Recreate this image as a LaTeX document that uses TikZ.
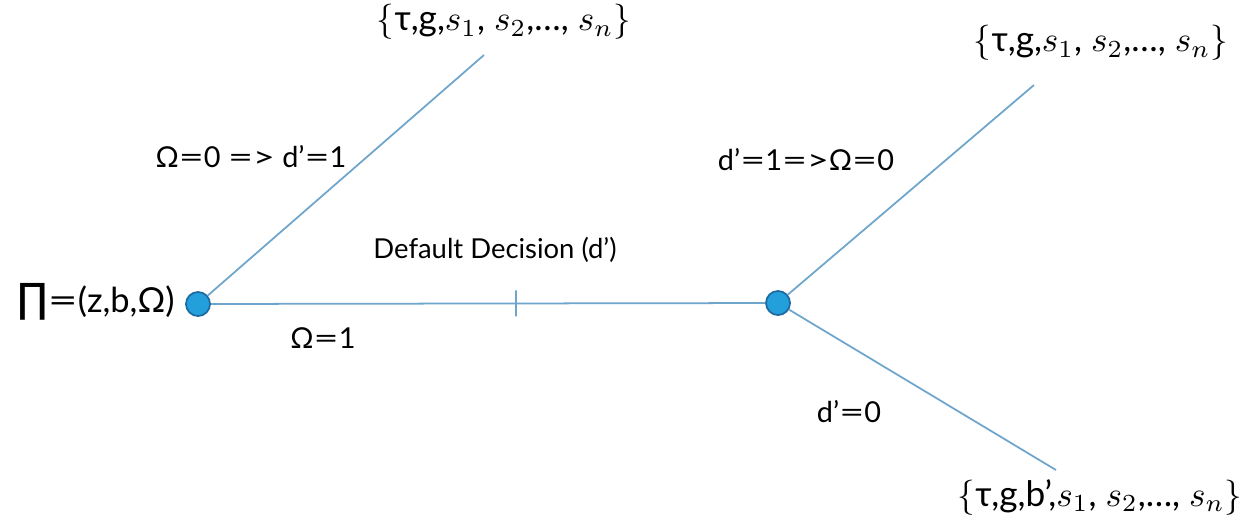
\documentclass[tikz,border=0pt]{standalone}
\usepackage{fontspec}
\setmainfont{Lato}
\newfontfamily\symfont{DejaVu Sans}
\usepackage{graphicx}
\usepackage{tikz}
\usetikzlibrary{positioning}
\definecolor{EdgeBlue}{RGB}{110,165,205}
\definecolor{DotBlue}{RGB}{35,160,220}
\definecolor{DotRim}{RGB}{30,105,160}
\newcommand{\eqs}{\scalebox{1.5}[1]{=}}
\newcommand{\gts}{\scalebox{1.3}[1]{\textgreater}}

\begin{document}
\begin{tikzpicture}[x=0.01cm, y=0.01cm, font=\fontsize{8.2}{9}\selectfont]
  \useasboundingbox (0,0) rectangle (1245,520);
  % decision points
  \node[circle, draw=DotRim, fill=DotBlue, line width=0.5pt, minimum size=0.24cm, inner sep=0pt] (root) at (198,216) {};
  \node[circle, draw=DotRim, fill=DotBlue, line width=0.5pt, minimum size=0.24cm, inner sep=0pt] (dflt) at (778,217) {};
  \coordinate (upL) at (484,465);
  \coordinate (upR) at (1034,435);
  \coordinate (lowR) at (1056,50);
  % branches
  \draw[EdgeBlue, line width=0.5pt] (root) -- (upL);
  \draw[EdgeBlue, line width=0.5pt] (root) -- node[pos=0.55, rectangle, draw=EdgeBlue, line width=0.5pt, minimum width=0pt, minimum height=0.26cm, inner sep=0pt] (tick) {} (dflt);
  \draw[EdgeBlue, line width=0.5pt] (dflt) -- (upR);
  \draw[EdgeBlue, line width=0.5pt] (dflt) -- (lowR);
  % labels
  \node[anchor=east, font=\fontsize{9.8}{11}\selectfont] (state) at (187,218) {{\symfont\fontsize{11.5}{12}\selectfont ∏}\eqs(z,b,Ω)};
  \node (omz) at (251,363) {Ω\eqs0 \eqs\gts\ d’\eqs1};
  \node[font=\fontsize{7.8}{9}\selectfont] (dd) at (495,270) {Default Decision (d’)};
  \node (omo) at (323,182) {Ω\eqs1};
  \node (dpo) at (806,360) {d’\eqs1\eqs\gts Ω\eqs0};
  \node (dpz) at (849,108) {d’\eqs0};
  \node[font=\fontsize{10}{11}\selectfont] (setL) at (504,498) {$\{$τ,g,$s_1$, $s_2$,…, $s_n\}$};
  \node[font=\fontsize{10}{11}\selectfont] (setR) at (1101,477) {$\{$τ,g,$s_1$, $s_2$,…, $s_n\}$};
  \node[font=\fontsize{10}{11}\selectfont] (setB) at (1100,23) {$\{$τ,g,b’,$s_1$, $s_2$,…, $s_n\}$};
\end{tikzpicture}
\end{document}
